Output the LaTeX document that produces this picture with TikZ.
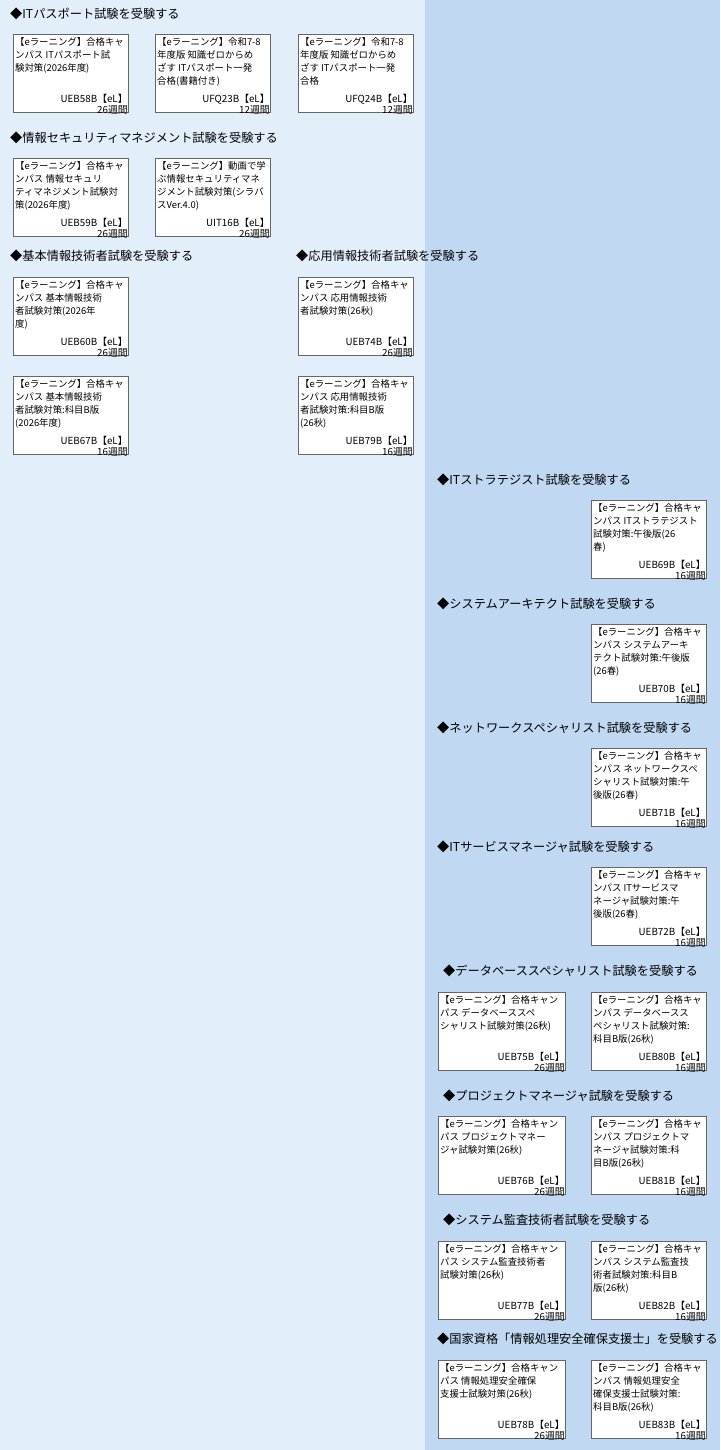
\documentclass[tikz,border=0pt]{standalone}
\usepackage{fontspec}
\setmainfont{Noto Sans CJK JP}
\begin{document}
\begin{tikzpicture}[x=1pt,y=1pt,
  box/.style={draw=gray!80!black,fill=white,line width=0.8pt,minimum height=78pt,inner sep=0pt,anchor=north west},
  txt/.style={anchor=north west,align=left,inner sep=0pt,font=\fontsize{9.4}{13}\selectfont},
  cd/.style={anchor=south east,align=right,inner sep=0pt,font=\fontsize{9.8}{11.5}\selectfont},
  hd/.style={anchor=west,inner sep=0pt,font=\fontsize{12.2}{13}\selectfont}]
\useasboundingbox (0,0) rectangle (720,-1450);
\fill[fill={rgb,255:red,227;green,238;blue,251}] (0,0) rectangle (425,-1450);
\fill[fill={rgb,255:red,192;green,216;blue,242}] (425,0) rectangle (720,-1450);
\newcommand{\bx}[7][115]{%
  \node[box,minimum width=#1pt] (#2) at (#3,-#4) {};
  \node[txt] at ([xshift=2pt,yshift=-3pt]#2.north west) {#5};
  \node[cd] at ([xshift=-1pt,yshift=-2pt]#2.south east) {#6\\#7};}
\node[hd] (h1) at (10,-14) {◆ITパスポート試験を受験する};
\bx{a1}{13}{34}{【eラーニング】合格キャ\\ンパス ITパスポート試\\験対策(2026年度)}{UEB58B【eL】}{26週間}
\bx{a2}{155}{34}{【eラーニング】令和7-8\\年度版 知識ゼロからめ\\ざす ITパスポート一発\\合格(書籍付き)}{UFQ23B【eL】}{12週間}
\bx{a3}{298}{34}{【eラーニング】令和7-8\\年度版 知識ゼロからめ\\ざす ITパスポート一発\\合格}{UFQ24B【eL】}{12週間}
\node[hd] (h2) at (10,-138) {◆情報セキュリティマネジメント試験を受験する};
\bx{b1}{13}{158}{【eラーニング】合格キャ\\ンパス 情報セキュリ\\ティマネジメント試験対\\策(2026年度)}{UEB59B【eL】}{26週間}
\bx{b2}{155}{158}{【eラーニング】動画で学\\ぶ情報セキュリティマネ\\ジメント試験対策(シラバ\\スVer.4.0)}{UIT16B【eL】}{26週間}
\node[hd] (h3) at (10,-256) {◆基本情報技術者試験を受験する};
\node[hd] (h4) at (296,-256) {◆応用情報技術者試験を受験する};
\bx{c1}{13}{277}{【eラーニング】合格キャ\\ンパス 基本情報技術\\者試験対策(2026年\\度)}{UEB60B【eL】}{26週間}
\bx{c2}{13}{376}{【eラーニング】合格キャ\\ンパス 基本情報技術\\者試験対策:科目B版\\(2026年度)}{UEB67B【eL】}{16週間}
\bx{d1}{298}{277}{【eラーニング】合格キャ\\ンパス 応用情報技術\\者試験対策(26秋)}{UEB74B【eL】}{26週間}
\bx{d2}{298}{376}{【eラーニング】合格キャ\\ンパス 応用情報技術\\者試験対策:科目B版\\(26秋)}{UEB79B【eL】}{16週間}
\node[hd] (h5) at (437,-480) {◆ITストラテジスト試験を受験する};
\bx{e1}{591}{500}{【eラーニング】合格キャ\\ンパス ITストラテジスト\\試験対策:午後版(26\\春)}{UEB69B【eL】}{16週間}
\node[hd] (h6) at (437,-604) {◆システムアーキテクト試験を受験する};
\bx{f1}{591}{624}{【eラーニング】合格キャ\\ンパス システムアーキ\\テクト試験対策:午後版\\(26春)}{UEB70B【eL】}{16週間}
\node[hd] (h7) at (437,-728) {◆ネットワークスペシャリスト試験を受験する};
\bx{g1}{591}{748}{【eラーニング】合格キャ\\ンパス ネットワークスペ\\シャリスト試験対策:午\\後版(26春)}{UEB71B【eL】}{16週間}
\node[hd] (h8) at (437,-847) {◆ITサービスマネージャ試験を受験する};
\bx{i1}{591}{867}{【eラーニング】合格キャ\\ンパス ITサービスマ\\ネージャ試験対策:午\\後版(26春)}{UEB72B【eL】}{16週間}
\node[hd] (h9) at (443,-971) {◆データベーススペシャリスト試験を受験する};
\bx[127]{j1}{438}{992}{【eラーニング】合格キャン\\パス データベーススペ\\シャリスト試験対策(26秋)}{UEB75B【eL】}{26週間}
\bx{j2}{591}{992}{【eラーニング】合格キャ\\ンパス データベースス\\ペシャリスト試験対策:\\科目B版(26秋)}{UEB80B【eL】}{16週間}
\node[hd] (h10) at (443,-1096) {◆プロジェクトマネージャ試験を受験する};
\bx[127]{k1}{438}{1116}{【eラーニング】合格キャン\\パス プロジェクトマネー\\ジャ試験対策(26秋)}{UEB76B【eL】}{26週間}
\bx{k2}{591}{1116}{【eラーニング】合格キャ\\ンパス プロジェクトマ\\ネージャ試験対策:科\\目B版(26秋)}{UEB81B【eL】}{16週間}
\node[hd] (h11) at (443,-1220) {◆システム監査技術者試験を受験する};
\bx[127]{l1}{438}{1241}{【eラーニング】合格キャン\\パス システム監査技術者\\試験対策(26秋)}{UEB77B【eL】}{26週間}
\bx{l2}{591}{1241}{【eラーニング】合格キャ\\ンパス システム監査技\\術者試験対策:科目B\\版(26秋)}{UEB82B【eL】}{16週間}
\node[hd] (h12) at (437,-1339) {◆国家資格「情報処理安全確保支援士」を受験する};
\bx[127]{m1}{438}{1360}{【eラーニング】合格キャン\\パス 情報処理安全確保\\支援士試験対策(26秋)}{UEB78B【eL】}{26週間}
\bx{m2}{591}{1360}{【eラーニング】合格キャ\\ンパス 情報処理安全\\確保支援士試験対策:\\科目B版(26秋)}{UEB83B【eL】}{16週間}
\end{tikzpicture}
\end{document}
